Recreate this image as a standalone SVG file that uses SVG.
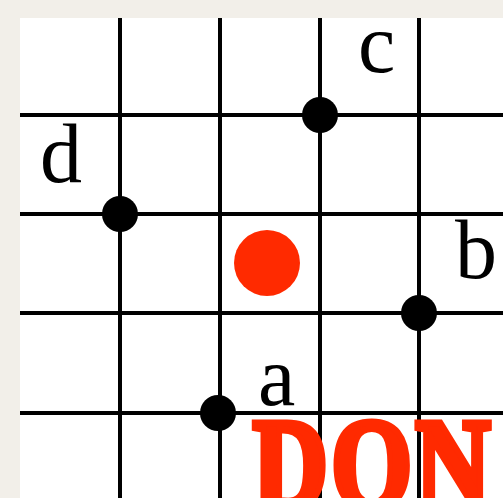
<svg xmlns="http://www.w3.org/2000/svg" width="503" height="498" viewBox="0 0 503 498">
<style>
.grid line{stroke:#000;stroke-width:4}
.dot{fill:#000}
.lbl{font-family:"Liberation Serif","Times New Roman",serif;font-size:84px;fill:#000}
.done{font-family:"Liberation Serif","Times New Roman",serif;font-weight:bold;font-size:130px;fill:#ff2a00;stroke:#ff2a00;stroke-width:7;stroke-linejoin:miter}
</style>
<rect x="0" y="0" width="503" height="498" fill="#f2efe9"/>
<rect x="20" y="18" width="483" height="480" fill="#fff"/>
<g id="connectors" class="grid">
<line x1="20" y1="115" x2="503" y2="115"/>
<line x1="20" y1="214" x2="503" y2="214"/>
<line x1="20" y1="313" x2="503" y2="313"/>
<line x1="20" y1="413" x2="503" y2="413"/>
<line x1="120" y1="18" x2="120" y2="498"/>
<line x1="220" y1="18" x2="220" y2="498"/>
<line x1="320" y1="18" x2="320" y2="498"/>
<line x1="419" y1="18" x2="419" y2="498"/>
</g>
<g id="node-c"><circle class="dot" cx="320" cy="115" r="18"/><text class="lbl" x="358" y="72">c</text></g>
<g id="node-d"><circle class="dot" cx="120" cy="214" r="18"/><text class="lbl" x="40" y="182">d</text></g>
<g id="node-b"><circle class="dot" cx="419" cy="313" r="18"/><text class="lbl" x="455" y="278">b</text></g>
<g id="node-a"><circle class="dot" cx="218" cy="413" r="18"/><text class="lbl" x="258" y="405">a</text></g>
<g id="node-red"><circle cx="267" cy="263" r="33" fill="#ff2a00"/></g>
<g id="done"><text class="done" transform="scale(0.8,1)" x="316 414 519" y="508">DON</text></g>
</svg>
